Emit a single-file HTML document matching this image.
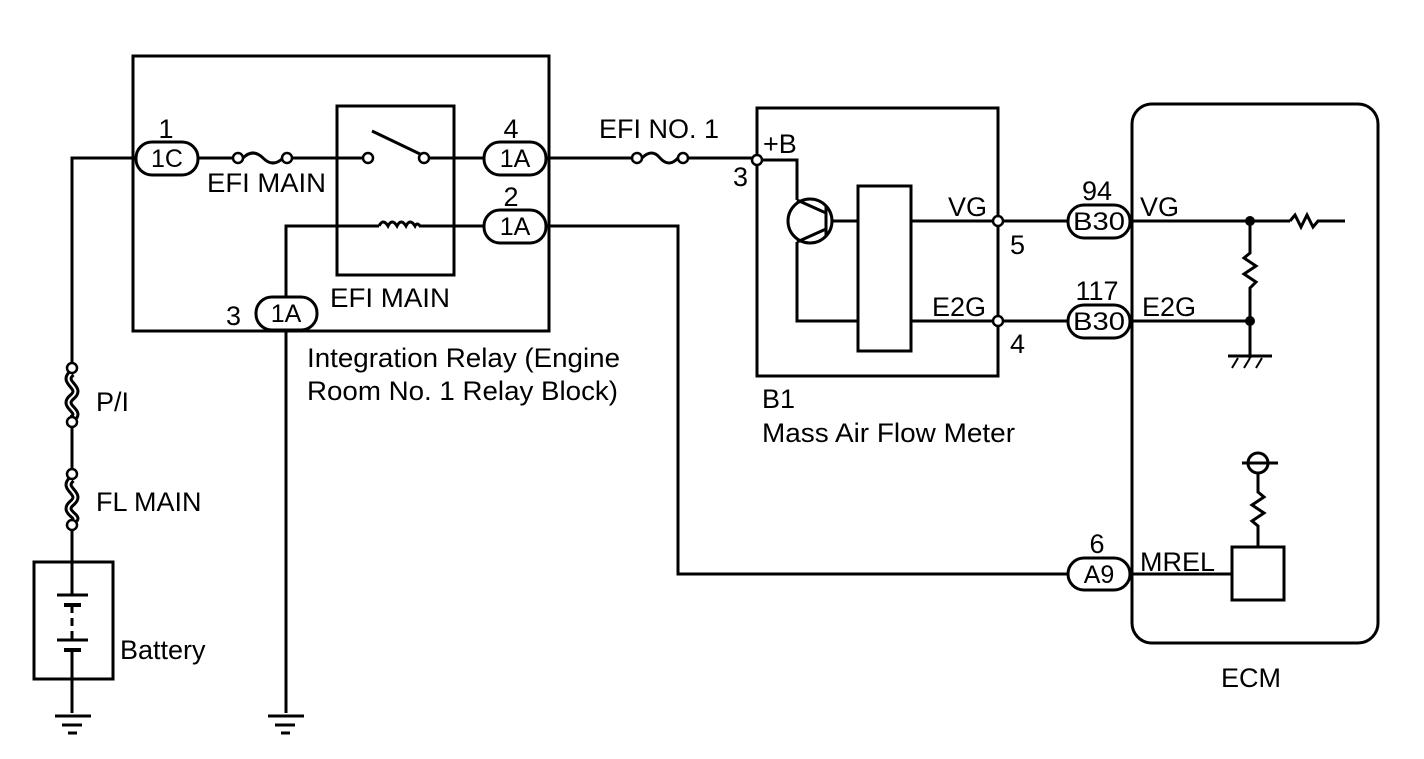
<!DOCTYPE html>
<html><head><meta charset="utf-8"><style>
html,body{margin:0;padding:0;background:#fff}
svg{display:block}
text{font-family:"Liberation Sans",Arial,sans-serif;fill:#000}
</style></head><body>
<svg width="1424" height="759" viewBox="0 0 1424 759" xmlns="http://www.w3.org/2000/svg">
<g fill="none" stroke="#000" stroke-width="3">
<rect x="133" y="56" width="416" height="275"/>
<rect x="337" y="106" width="117" height="169"/>
<polyline points="136,158 72,158 72,362"/>
<line x1="198" y1="158" x2="233" y2="158"/>
<path d="M243,158 q10,-10 20,0 q10,10 20,0"/>
<line x1="292" y1="158" x2="363" y2="158"/>
<line x1="372" y1="131" x2="420" y2="154"/>
<line x1="429" y1="158" x2="484" y2="158"/>
<polyline points="286,296 286,226 379,226"/>
<path d="M379,226 q4,-8 9,0 q4,-8 9,0 q4,-8 9,0 q4,-8 9,0 q2,-4 5,0"/>
<line x1="419" y1="226" x2="484" y2="226"/>
<line x1="286" y1="331" x2="286" y2="713"/>
<line x1="546" y1="158" x2="632" y2="158"/>
<path d="M642,158 q10,-10 18,0 q9,10 18,0"/>
<line x1="688" y1="158" x2="752" y2="158"/>
<polyline points="546,226 678,226 678,574 1068,574"/>
<rect x="757" y="108" width="241" height="268"/>
<polyline points="762,160 797,160 797,200"/>
<circle cx="810" cy="221" r="22"/>
<line x1="826" y1="205" x2="826" y2="237"/>
<line x1="826" y1="213" x2="797" y2="200"/>
<line x1="826" y1="229" x2="797" y2="242"/>
<polyline points="797,242 797,321 858,321"/>
<line x1="832" y1="221" x2="858" y2="221"/>
<rect x="858" y="186" width="53" height="165"/>
<line x1="911" y1="221" x2="993" y2="221"/>
<line x1="911" y1="321" x2="993" y2="321"/>
<line x1="1003" y1="221" x2="1068" y2="221"/>
<line x1="1003" y1="321" x2="1068" y2="321"/>
<rect x="1132" y="104" width="246" height="539" rx="20"/>
<line x1="1132" y1="221" x2="1290" y2="221"/>
<path d="M1290,221 l5,-6 l6,12 l6,-12 l6,12 l5,-6 h27"/>
<line x1="1132" y1="321" x2="1250" y2="321"/>
<polyline points="1250,221 1250,253 1244,258 1256,266 1244,274 1256,282 1250,288 1250,358"/>
<line x1="1228" y1="356" x2="1272" y2="356" stroke-width="3"/>
<line x1="1238" y1="358" x2="1232" y2="368" stroke-width="2"/>
<line x1="1250" y1="358" x2="1244" y2="368" stroke-width="2"/>
<line x1="1262" y1="358" x2="1256" y2="368" stroke-width="2"/>
<line x1="1132" y1="574" x2="1232" y2="574"/>
<rect x="1232" y="547" width="52" height="53"/>
<polyline points="1258,547 1258,526 1252,521 1264,513 1252,505 1264,497 1258,492 1258,473"/>
<circle cx="1258" cy="463" r="10"/>
<line x1="1242" y1="463" x2="1278" y2="463"/>
<line x1="72" y1="427" x2="72" y2="469"/>
<line x1="72" y1="530" x2="72" y2="595"/>
<rect x="34" y="562" width="79" height="117"/>
<line x1="57" y1="595" x2="88" y2="595"/>
<line x1="64" y1="605" x2="81" y2="605" stroke-width="4"/>
<line x1="72" y1="605" x2="72" y2="640" stroke-dasharray="8,5"/>
<line x1="57" y1="640" x2="88" y2="640"/>
<line x1="64" y1="650" x2="81" y2="650" stroke-width="4"/>
<line x1="72" y1="650" x2="72" y2="713"/>
<line x1="55" y1="716" x2="91" y2="716"/>
<line x1="62" y1="725" x2="82" y2="725"/>
<line x1="68" y1="733" x2="77" y2="733"/>
<line x1="268" y1="716" x2="304" y2="716"/>
<line x1="275" y1="725" x2="295" y2="725"/>
<line x1="281" y1="733" x2="290" y2="733"/>
<path d="M72,373 c-12,10 12,14 0,24 c-12,10 12,14 0,22" stroke-width="8"/>
<path d="M72,373 c-12,10 12,14 0,24 c-12,10 12,14 0,22" stroke="#fff" stroke-width="2"/>
<path d="M72,479 c-12,10 12,14 0,24 c-12,10 12,14 0,18" stroke-width="8"/>
<path d="M72,479 c-12,10 12,14 0,24 c-12,10 12,14 0,18" stroke="#fff" stroke-width="2"/>
</g>
<g fill="#fff" stroke="#000" stroke-width="2.5">
<circle cx="238" cy="158" r="5"/><circle cx="287" cy="158" r="5"/>
<circle cx="368" cy="158" r="5"/><circle cx="424" cy="158" r="5"/>
<circle cx="637" cy="158" r="5"/><circle cx="683" cy="158" r="5"/>
<circle cx="757" cy="160" r="5"/>
<circle cx="998" cy="221" r="5"/><circle cx="998" cy="321" r="5"/>
<circle cx="72" cy="368" r="5"/><circle cx="72" cy="422" r="5"/>
<circle cx="72" cy="474" r="5"/><circle cx="72" cy="525" r="5"/>
</g>
<g fill="#000"><circle cx="1250" cy="221" r="5"/><circle cx="1250" cy="321" r="5"/></g>
<g fill="#fff" stroke="#000" stroke-width="3">
<rect x="136" y="142" width="62" height="33" rx="16"/>
<rect x="484" y="142" width="62" height="33" rx="16"/>
<rect x="484" y="210" width="62" height="33" rx="16"/>
<rect x="256" y="297" width="61" height="33" rx="16"/>
<rect x="1068" y="205" width="62" height="33" rx="16"/>
<rect x="1068" y="305" width="62" height="33" rx="16"/>
<rect x="1068" y="558" width="62" height="32" rx="16"/>
</g>
<g font-size="25">
<text x="167" y="167" text-anchor="middle">1C</text>
<text x="515" y="167" text-anchor="middle">1A</text>
<text x="515" y="235" text-anchor="middle">1A</text>
<text x="286" y="322" text-anchor="middle">1A</text>
<text x="1099" y="230" text-anchor="middle" textLength="52" lengthAdjust="spacingAndGlyphs">B30</text>
<text x="1099" y="330" text-anchor="middle" textLength="52" lengthAdjust="spacingAndGlyphs">B30</text>
<text x="1099" y="583" text-anchor="middle">A9</text>
</g>
<g font-size="27">
<text x="166" y="138" text-anchor="middle">1</text>
<text x="511" y="138" text-anchor="middle">4</text>
<text x="511" y="206" text-anchor="middle">2</text>
<text x="226" y="325">3</text>
<text x="207" y="192" textLength="119" lengthAdjust="spacingAndGlyphs">EFI MAIN</text>
<text x="330" y="307" textLength="120" lengthAdjust="spacingAndGlyphs">EFI MAIN</text>
<text x="599" y="138" textLength="120" lengthAdjust="spacingAndGlyphs">EFI NO. 1</text>
<text x="763" y="153">+B</text>
<text x="733" y="186">3</text>
<text x="307" y="367" textLength="313" lengthAdjust="spacingAndGlyphs">Integration Relay (Engine</text>
<text x="307" y="400" textLength="311" lengthAdjust="spacingAndGlyphs">Room No. 1 Relay Block)</text>
<text x="948" y="216">VG</text>
<text x="932" y="316">E2G</text>
<text x="1010" y="254">5</text>
<text x="1010" y="353">4</text>
<text x="1097" y="200" text-anchor="middle">94</text>
<text x="1097" y="300" text-anchor="middle">117</text>
<text x="1097" y="553" text-anchor="middle">6</text>
<text x="1140" y="216">VG</text>
<text x="1142" y="316">E2G</text>
<text x="1140" y="571">MREL</text>
<text x="762" y="408">B1</text>
<text x="762" y="442" textLength="253" lengthAdjust="spacingAndGlyphs">Mass Air Flow Meter</text>
<text x="1251" y="687" text-anchor="middle">ECM</text>
<text x="96" y="411">P/I</text>
<text x="96" y="511">FL MAIN</text>
<text x="120" y="659">Battery</text>
</g>
</svg>
</body></html>
